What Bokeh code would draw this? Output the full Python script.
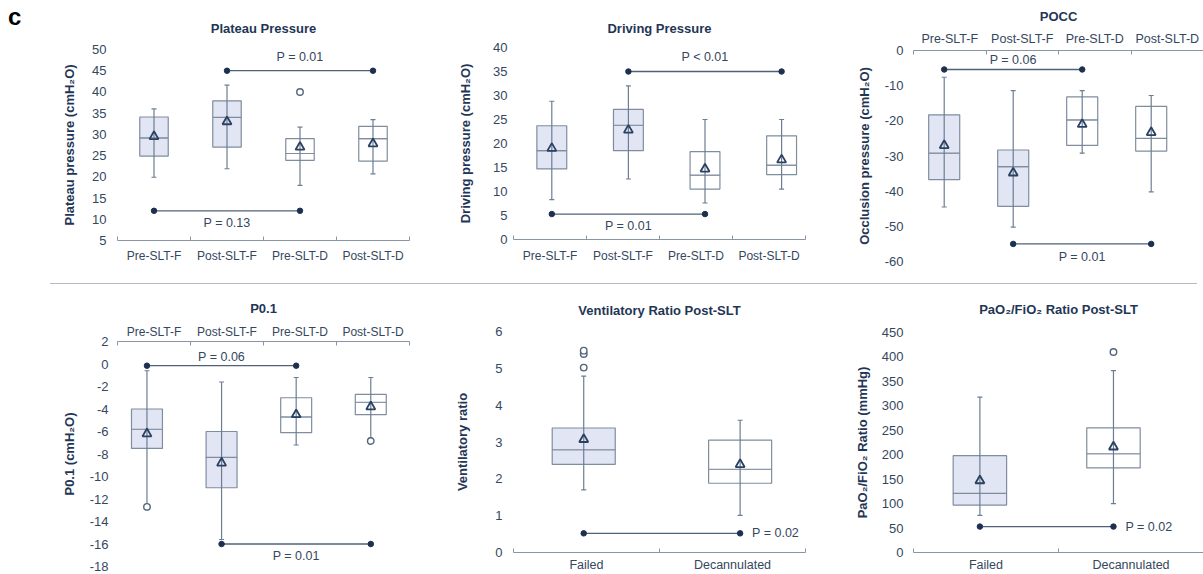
from bokeh.plotting import figure
from bokeh.models import Range1d, LinearAxis, FixedTicker, Div
from bokeh.layouts import row, column
from bokeh.embed import file_html
from bokeh.resources import INLINE
from bokeh.core.properties import value

FONT = "Liberation Sans"
NAVY = "#1f3656"
TXT = "#34475e"
AXC = "#8795a6"
BOXL = "#7f8d9e"
WHISK = "#6c7e93"
SIGL = "#4f627a"
DOT = "#1d3050"
FILL_F = "#e2e5f3"
FILL_D = "#ffffff"

# ---------------- data ----------------
groups4 = ["Pre-SLT-F", "Post-SLT-F", "Pre-SLT-D", "Post-SLT-D"]
groups2 = ["Failed", "Decannulated"]
fills4 = [FILL_F, FILL_F, FILL_D, FILL_D]
fills2 = [FILL_F, FILL_D]

# Plateau pressure (cmH2O)
plat_lo = [19.9, 21.9, 18.0, 20.7]
plat_q1 = [24.9, 27.0, 23.9, 23.7]
plat_med = [29.2, 34.0, 25.5, 29.0]
plat_q3 = [34.1, 37.9, 29.0, 31.9]
plat_hi = [36.0, 41.6, 31.7, 33.5]
plat_mean = [29.5, 33.0, 27.0, 27.8]
plat_out_g = ["Pre-SLT-D"]
plat_out_v = [40.0]
plat_ticks = [5, 10, 15, 20, 25, 30, 35, 40, 45, 50]
plat_sig = [("Post-SLT-F", "Post-SLT-D", 45, "P = 0.01", "above"),
            ("Pre-SLT-F", "Pre-SLT-D", 12, "P = 0.13", "below")]

# Driving pressure (cmH2O)
drv_lo = [8.3, 12.6, 7.6, 10.5]
drv_q1 = [14.7, 18.5, 10.5, 13.5]
drv_med = [18.5, 23.8, 13.4, 15.5]
drv_q3 = [23.7, 27.1, 18.3, 21.6]
drv_hi = [28.8, 32.0, 25.0, 25.0]
drv_mean = [19.0, 22.8, 14.7, 16.6]
drv_out_g = []
drv_out_v = []
drv_ticks = [0, 5, 10, 15, 20, 25, 30, 35, 40]
drv_sig = [("Post-SLT-F", "Post-SLT-D", 35, "P < 0.01", "above"),
           ("Pre-SLT-F", "Pre-SLT-D", 5.3, "P = 0.01", "below")]

# POCC (cmH2O)
pocc_lo = [-44.5, -50.2, -29.2, -40.2]
pocc_q1 = [-36.7, -44.3, -27.0, -28.6]
pocc_med = [-29.2, -33.0, -19.7, -25.0]
pocc_q3 = [-18.3, -28.3, -13.2, -15.9]
pocc_hi = [-7.6, -11.4, -11.4, -12.8]
pocc_mean = [-27.0, -34.8, -21.0, -23.3]
pocc_out_g = []
pocc_out_v = []
pocc_ticks = [-60, -50, -40, -30, -20, -10, 0]
pocc_sig = [("Pre-SLT-F", "Pre-SLT-D", -5.4, "P = 0.06", "above"),
            ("Post-SLT-F", "Post-SLT-D", -55, "P = 0.01", "below")]

# P0.1 (cmH2O)
p01_lo = [-12.5, -15.6, -7.2, -6.6]
p01_q1 = [-7.5, -11.0, -6.1, -4.5]
p01_med = [-5.8, -8.3, -4.7, -3.4]
p01_q3 = [-4.0, -6.0, -3.0, -2.7]
p01_hi = [-0.6, -1.6, -1.2, -1.2]
p01_mean = [-6.2, -8.8, -4.5, -3.8]
p01_out_g = ["Pre-SLT-F", "Post-SLT-D"]
p01_out_v = [-12.7, -6.85]
p01_ticks = [-18, -16, -14, -12, -10, -8, -6, -4, -2, 0, 2]
p01_sig = [("Pre-SLT-F", "Pre-SLT-D", -0.15, "P = 0.06", "above"),
           ("Post-SLT-F", "Post-SLT-D", -16, "P = 0.01", "below")]

# Ventilatory ratio post-SLT
vr_lo = [1.70, 1.01]
vr_q1 = [2.39, 1.88]
vr_med = [2.79, 2.26]
vr_q3 = [3.38, 3.05]
vr_hi = [4.79, 3.59]
vr_mean = [3.07, 2.39]
vr_out_g = ["Failed", "Failed", "Failed"]
vr_out_v = [5.02, 5.39, 5.48]
vr_ticks = [0, 1, 2, 3, 4, 5, 6]
vr_sig = [("Failed", "Decannulated", 0.52, "P = 0.02", "right")]

# PaO2/FiO2 ratio post-SLT (mmHg)
pf_lo = [76, 100]
pf_q1 = [97, 173]
pf_med = [121, 202]
pf_q3 = [198, 255]
pf_hi = [318, 372]
pf_mean = [147, 216]
pf_out_g = ["Decannulated"]
pf_out_v = [410]
pf_ticks = [0, 50, 100, 150, 200, 250, 300, 350, 400, 450]
pf_sig = [("Failed", "Decannulated", 53, "P = 0.02", "right")]


def build(title, ylabel, groups, fills, lo, q1, med, q3, hi, mean, out_g, out_v,
          yticks, sig, lay):
    n = len(groups)
    p = figure(width=lay["w"], height=lay["h"],
               x_range=Range1d(*lay["xr"]), y_range=Range1d(yticks[0], yticks[-1]),
               x_axis_location=None, y_axis_location="left",
               output_backend="svg", toolbar_location=None,
               min_border_left=lay["bl"], min_border_right=lay["br"],
               min_border_top=lay["bt"], min_border_bottom=lay["bb"],
               outline_line_color=None, background_fill_color="white",
               border_fill_color=None, title=title)
    p.grid.grid_line_color = None
    p.title.align = "center"
    p.title.text_font = FONT
    p.title.text_font_size = "13px"
    p.title.text_font_style = "bold"
    p.title.text_color = NAVY
    p.title.standoff = lay["ts"]

    ya = p.yaxis[0]
    ya.ticker = FixedTicker(ticks=yticks)
    ya.major_label_overrides = {t: str(t) for t in yticks}
    ya.axis_line_color = None
    ya.major_tick_line_color = None
    ya.major_tick_in = 0
    ya.major_tick_out = 0
    ya.minor_tick_line_color = None
    ya.minor_tick_in = 0
    ya.minor_tick_out = 0
    ya.major_label_text_font = FONT
    ya.major_label_text_font_size = "13px"
    ya.major_label_text_color = TXT
    ya.major_label_standoff = lay["mls"]
    ya.axis_label = ylabel
    ya.axis_label_text_font = FONT
    ya.axis_label_text_font_size = "13px"
    ya.axis_label_text_font_style = "bold"
    ya.axis_label_text_color = NAVY
    ya.axis_label_standoff = lay["als"]

    p.extra_x_ranges = {"cat": Range1d(-0.5, n - 0.5)}
    ax = LinearAxis(x_range_name="cat",
                    ticker=FixedTicker(ticks=list(range(n)),
                                       minor_ticks=[i - 0.5 for i in range(n + 1)]),
                    major_label_overrides={i: g for i, g in enumerate(groups)},
                    axis_line_color=AXC, axis_line_width=1,
                    major_tick_line_color=None, major_tick_in=0, major_tick_out=0,
                    minor_tick_line_color=AXC, minor_tick_in=4, minor_tick_out=0,
                    major_label_standoff=lay["cls"],
                    major_label_text_font=FONT,
                    major_label_text_font_size=lay["cfs"],
                    major_label_text_color=TXT)
    p.add_layout(ax, lay["side"])

    xs = list(range(n))
    bw = lay["bw"]
    p.vbar(x=xs, width=bw, bottom=q1, top=med, fill_color=fills,
           line_color=BOXL, line_width=1.2)
    p.vbar(x=xs, width=bw, bottom=med, top=q3, fill_color=fills,
           line_color=BOXL, line_width=1.2)
    p.segment(x0=xs, y0=lo, x1=xs, y1=hi, line_color=WHISK, line_width=1.2)
    p.scatter(x=xs, y=lo, marker="dash", size=5, line_color=WHISK, line_width=1.2)
    p.scatter(x=xs, y=hi, marker="dash", size=5, line_color=WHISK, line_width=1.2)
    p.scatter(x=xs, y=mean, marker="triangle", size=9, fill_color=None,
              line_color="#2a4162", line_width=1.8)
    if out_g:
        p.scatter(x=[groups.index(g) for g in out_g], y=out_v, marker="circle",
                  size=6.5, fill_color="white", line_color="#52657c", line_width=1.4)

    for a, b, yv, txt, side in sig:
        ia, ib = groups.index(a), groups.index(b)
        p.segment(x0=[ia], y0=[yv], x1=[ib], y1=[yv], line_color=SIGL, line_width=1.3)
        p.scatter(x=[ia, ib], y=[yv, yv], marker="circle", size=5.5,
                  fill_color=DOT, line_color=DOT)
        if side == "right":
            p.text(x=[ib], y=[yv], text=[txt], x_offset=12, text_align="left",
                   text_baseline="middle", text_font=value(FONT),
                   text_font_size="12.5px", text_color=TXT)
        else:
            off = -lay["pa"] if side == "above" else lay["pb"]
            p.text(x=[(ia + ib) / 2], y=[yv], text=[txt], y_offset=off,
                   text_align="center", text_baseline="middle",
                   text_font=value(FONT), text_font_size="12.5px", text_color=TXT)
    return p


p1 = build("Plateau Pressure", "Plateau pressure (cmH\u2082O)", groups4, fills4,
           plat_lo, plat_q1, plat_med, plat_q3, plat_hi, plat_mean,
           plat_out_g, plat_out_v, plat_ticks, plat_sig,
           dict(w=430, h=283, bl=117, br=21, bt=49, bb=43, xr=(-0.5, 3.5),
                ts=27, mls=11, als=12, cls=8, cfs="12px", side="below",
                bw=0.39, pa=14, pb=12))

p2 = build("Driving Pressure", "Driving pressure (cmH\u2082O)", groups4, fills4,
           drv_lo, drv_q1, drv_med, drv_q3, drv_hi, drv_mean,
           drv_out_g, drv_out_v, drv_ticks, drv_sig,
           dict(w=410, h=283, bl=83, br=35, bt=47, bb=44, xr=(-0.5, 3.312),
                ts=23, mls=6, als=17, cls=9, cfs="12px", side="below",
                bw=0.39, pa=15, pb=12))

p3 = build("POCC", "Occlusion pressure (cmH\u2082O)", groups4, fills4,
           pocc_lo, pocc_q1, pocc_med, pocc_q3, pocc_hi, pocc_mean,
           pocc_out_g, pocc_out_v, pocc_ticks, pocc_sig,
           dict(w=363, h=283, bl=73, br=0, bt=50, bb=22, xr=(-0.445, 3.758),
                ts=10, mls=10, als=10, cls=5, cfs="12.5px", side="above",
                bw=0.45, pa=9, pb=13))

p4 = build("P0.1", "P0.1 (cmH\u2082O)", groups4, fills4,
           p01_lo, p01_q1, p01_med, p01_q3, p01_hi, p01_mean,
           p01_out_g, p01_out_v, p01_ticks, p01_sig,
           dict(w=430, h=290, bl=117, br=21, bt=57, bb=8, xr=(-0.395, 3.519),
                ts=11, mls=9, als=10, cls=3, cfs="12px", side="above",
                bw=0.415, pa=9, pb=12))

p5 = build("Ventilatory Ratio Post-SLT", "Ventilatory ratio", groups2, fills2,
           vr_lo, vr_q1, vr_med, vr_q3, vr_hi, vr_mean,
           vr_out_g, vr_out_v, vr_ticks, vr_sig,
           dict(w=410, h=290, bl=83, br=35, bt=47, bb=19, xr=(-0.449, 1.418),
                ts=28, mls=11, als=22, cls=5, cfs="12.5px", side="below",
                bw=0.403, pa=10, pb=10))

p6 = build("PaO\u2082/FiO\u2082 Ratio Post-SLT", "PaO\u2082/FiO\u2082 Ratio (mmHg)",
           groups2, fills2,
           pf_lo, pf_q1, pf_med, pf_q3, pf_hi, pf_mean,
           pf_out_g, pf_out_v, pf_ticks, pf_sig,
           dict(w=363, h=290, bl=73, br=0, bt=47, bb=19, xr=(-0.497, 1.674),
                ts=31, mls=10, als=9, cls=5, cfs="12.5px", side="below",
                bw=0.40, pa=10, pb=10))

panel_letter = Div(text="c", width=30, height=30, margin=(5, 0, -35, 8),
                   styles={"font-family": FONT, "font-size": "24px",
                           "font-weight": "bold", "color": "black",
                           "line-height": "1", "position": "relative",
                           "z-index": "5"})

DIVC = "#b3bcc7"
d1 = Div(text="", width=380, height=1, margin=(0, 0, 0, 50),
         styles={"background-color": DIVC})
d2 = Div(text="", width=410, height=1, margin=(0, 0, 0, 0),
         styles={"background-color": DIVC})
d3 = Div(text="", width=357, height=1, margin=(0, 0, 0, 0),
         styles={"background-color": DIVC})

layout = row(column(panel_letter, p1, d1, p4),
             column(p2, d2, p5),
             column(p3, d3, p6))

open("out.html", "w").write(file_html(layout, INLINE))
